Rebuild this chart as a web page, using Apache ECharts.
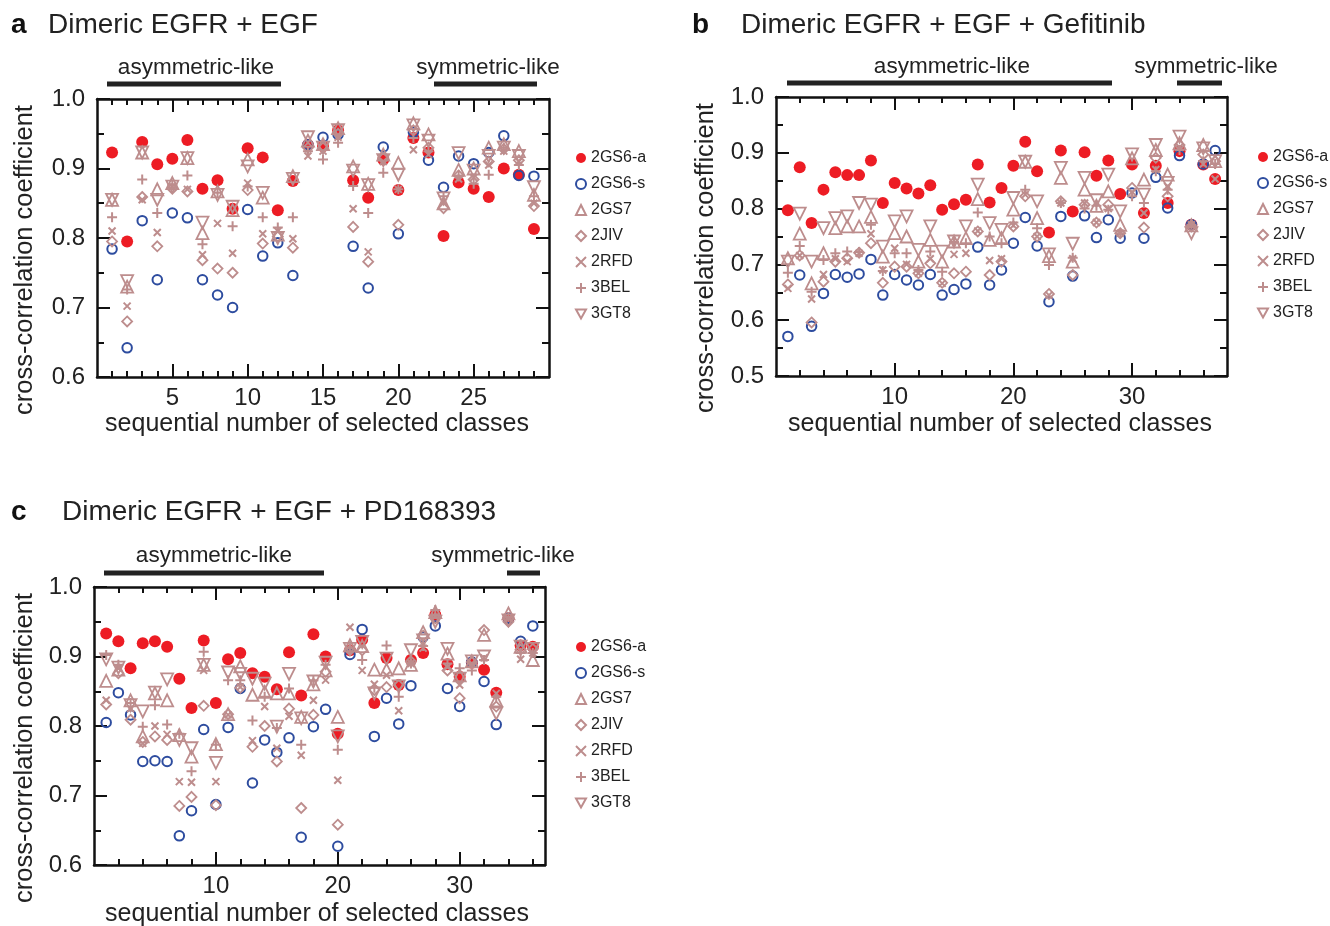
<!DOCTYPE html>
<html><head><meta charset="utf-8">
<script src="https://cdn.jsdelivr.net/npm/echarts@6/dist/echarts.min.js"></script>
<style>html,body{margin:0;padding:0;background:#fff}#c{width:1330px;height:926px}</style>
</head><body><div id="c"></div>
<script>
// ---------- DATA ----------
const seriesNames = ['2GS6-a', '2GS6-s', '2GS7', '2JIV', '2RFD', '3BEL', '3GT8'];

// Panel a: Dimeric EGFR + EGF
const classesA = [1,2,3,4,5,6,7,8,9,10,11,12,13,14,15,16,17,18,19,20,21,22,23,24,25,26,27,28,29];
const a_2GS6a = [0.923,0.795,0.938,0.906,0.914,0.941,0.871,0.883,0.842,0.929,0.916,0.840,0.882,0.934,0.932,0.955,0.883,0.858,0.913,0.869,0.944,0.923,0.803,0.880,0.871,0.859,0.900,0.891,0.813];
const a_2GS6s = [0.784,0.642,0.825,0.740,0.836,0.829,0.740,0.718,0.700,0.841,0.774,0.793,0.746,0.934,0.945,0.949,0.788,0.728,0.931,0.806,0.952,0.912,0.873,0.918,0.907,0.923,0.947,0.890,0.889];
const a_2GS7  = [0.855,0.730,0.923,0.870,0.879,0.915,0.807,0.867,0.840,0.913,0.858,0.805,0.889,0.940,0.935,0.958,0.903,0.878,0.920,0.908,0.965,0.949,0.850,0.898,0.900,0.930,0.935,0.925,0.862];
const a_2JIV  = [0.795,0.680,0.859,0.788,0.871,0.867,0.768,0.756,0.750,0.869,0.792,0.802,0.786,0.930,0.930,0.950,0.816,0.766,0.915,0.819,0.955,0.930,0.843,0.890,0.884,0.910,0.928,0.912,0.846];
const a_2RFD  = [0.810,0.702,0.855,0.808,0.874,0.870,0.776,0.821,0.778,0.879,0.806,0.810,0.799,0.918,0.925,0.945,0.842,0.780,0.910,0.870,0.927,0.920,0.852,0.885,0.887,0.905,0.925,0.910,0.850];
const a_3BEL  = [0.830,0.726,0.884,0.836,0.877,0.890,0.791,0.865,0.817,0.874,0.830,0.815,0.830,0.925,0.913,0.937,0.875,0.836,0.894,0.870,0.944,0.925,0.860,0.890,0.878,0.891,0.930,0.905,0.860];
const a_3GT8  = [0.855,0.738,0.923,0.855,0.874,0.915,0.822,0.862,0.845,0.903,0.865,0.800,0.885,0.945,0.930,0.955,0.897,0.876,0.912,0.891,0.962,0.940,0.857,0.922,0.897,0.918,0.930,0.918,0.873];

// Panel b: Dimeric EGFR + EGF + Gefitinib
const classesB = [1,2,3,4,5,6,7,8,9,10,11,12,13,14,15,16,17,18,19,20,21,22,23,24,25,26,27,28,29,30,31,32,33,34,35,36,37];
const b_2GS6a = [0.797,0.874,0.774,0.834,0.865,0.860,0.860,0.886,0.810,0.846,0.836,0.827,0.842,0.798,0.808,0.816,0.879,0.811,0.837,0.877,0.920,0.867,0.757,0.904,0.795,0.901,0.859,0.886,0.826,0.879,0.792,0.877,0.810,0.903,0.771,0.879,0.853];
const b_2GS6s = [0.571,0.681,0.589,0.648,0.682,0.677,0.683,0.709,0.645,0.682,0.672,0.663,0.682,0.645,0.655,0.665,0.731,0.663,0.690,0.738,0.784,0.733,0.633,0.786,0.679,0.787,0.748,0.780,0.747,0.828,0.747,0.856,0.801,0.895,0.771,0.880,0.904];
const b_2GS7  = [0.711,0.755,0.666,0.720,0.765,0.768,0.768,0.785,0.714,0.756,0.750,0.705,0.744,0.705,0.741,0.747,0.817,0.744,0.747,0.798,0.884,0.783,0.715,0.855,0.705,0.834,0.805,0.831,0.771,0.890,0.852,0.905,0.861,0.917,0.770,0.914,0.885];
const b_2JIV  = [0.664,0.716,0.596,0.669,0.705,0.711,0.721,0.738,0.667,0.696,0.696,0.684,0.702,0.667,0.684,0.687,0.759,0.681,0.705,0.768,0.822,0.750,0.647,0.813,0.681,0.807,0.775,0.807,0.756,0.837,0.766,0.891,0.822,0.914,0.768,0.897,0.885];
const b_2RFD  = [0.657,0.716,0.638,0.682,0.710,0.705,0.720,0.755,0.690,0.729,0.700,0.684,0.710,0.666,0.718,0.720,0.760,0.707,0.710,0.770,0.825,0.750,0.645,0.810,0.710,0.810,0.775,0.800,0.756,0.830,0.792,0.870,0.840,0.910,0.771,0.880,0.853];
const b_3BEL  = [0.685,0.733,0.651,0.708,0.720,0.723,0.722,0.771,0.688,0.720,0.720,0.690,0.723,0.687,0.740,0.738,0.793,0.750,0.738,0.775,0.834,0.765,0.699,0.810,0.712,0.800,0.805,0.798,0.756,0.822,0.810,0.867,0.834,0.905,0.771,0.885,0.880];
const b_3GT8  = [0.705,0.791,0.705,0.765,0.783,0.786,0.810,0.807,0.732,0.777,0.786,0.726,0.768,0.723,0.741,0.768,0.843,0.774,0.762,0.819,0.884,0.813,0.718,0.873,0.737,0.855,0.815,0.861,0.795,0.897,0.825,0.914,0.846,0.929,0.756,0.908,0.885];

// Panel c: Dimeric EGFR + EGF + PD168393
const classesC = [1,2,3,4,5,6,7,8,9,10,11,12,13,14,15,16,17,18,19,20,21,22,23,24,25,26,27,28,29,30,31,32,33,34,35,36];
const c_2GS6a = [0.933,0.922,0.883,0.919,0.922,0.914,0.868,0.826,0.923,0.833,0.896,0.905,0.876,0.871,0.853,0.906,0.844,0.932,0.900,0.789,0.909,0.924,0.833,0.898,0.859,0.895,0.905,0.960,0.889,0.871,0.891,0.881,0.848,0.955,0.916,0.914];
const c_2GS6s = [0.805,0.848,0.816,0.749,0.750,0.749,0.642,0.678,0.795,0.687,0.798,0.854,0.718,0.780,0.762,0.783,0.640,0.799,0.824,0.627,0.903,0.939,0.785,0.840,0.803,0.858,0.928,0.944,0.854,0.828,0.892,0.864,0.802,0.955,0.922,0.944];
const c_2GS7  = [0.865,0.881,0.837,0.785,0.847,0.837,0.787,0.756,0.888,0.774,0.817,0.886,0.845,0.849,0.847,0.847,0.813,0.860,0.880,0.813,0.916,0.915,0.881,0.881,0.883,0.888,0.935,0.964,0.904,0.873,0.893,0.931,0.837,0.962,0.914,0.895];
const c_2JIV  = [0.831,0.876,0.809,0.777,0.785,0.780,0.685,0.698,0.829,0.686,0.817,0.855,0.770,0.800,0.749,0.825,0.682,0.816,0.878,0.658,0.909,0.909,0.852,0.856,0.859,0.893,0.930,0.955,0.880,0.840,0.892,0.938,0.828,0.950,0.910,0.911];
const c_2RFD  = [0.837,0.883,0.825,0.775,0.800,0.788,0.720,0.719,0.880,0.720,0.816,0.856,0.779,0.828,0.768,0.814,0.758,0.837,0.866,0.722,0.942,0.880,0.860,0.873,0.822,0.890,0.912,0.957,0.885,0.859,0.890,0.898,0.847,0.955,0.896,0.905];
const c_3BEL  = [0.902,0.888,0.833,0.799,0.830,0.802,0.789,0.735,0.907,0.773,0.866,0.866,0.808,0.842,0.797,0.854,0.773,0.866,0.888,0.766,0.912,0.895,0.855,0.916,0.842,0.890,0.915,0.967,0.890,0.883,0.880,0.895,0.842,0.957,0.905,0.905];
const c_3GT8  = [0.896,0.884,0.830,0.821,0.848,0.867,0.780,0.768,0.888,0.747,0.877,0.875,0.868,0.861,0.799,0.875,0.811,0.864,0.891,0.785,0.911,0.921,0.847,0.897,0.857,0.909,0.923,0.950,0.911,0.868,0.893,0.900,0.818,0.952,0.914,0.911];

// Tick values
const xMajorA = [5, 10, 15, 20, 25];
const xMinorA = [1,2,3,4,6,7,8,9,11,12,13,14,16,17,18,19,21,22,23,24,26,27,28,29];
const xMajorB = [10, 20, 30];
const xMinorB = [2,4,6,8,12,14,16,18,22,24,26,28,32,34,36];
const xMajorC = [10, 20, 30];
const xMinorC = [2,4,6,8,12,14,16,18,22,24,26,28,32,34,36];

// Texts
const panelLetters = ['a', 'b', 'c'];
const panelTitles = ['Dimeric EGFR + EGF', 'Dimeric EGFR + EGF + Gefitinib', 'Dimeric EGFR + EGF + PD168393'];
const yName = 'cross-correlation coefficient';
const xName = 'sequential number of selected classes';
const asymLabel = 'asymmetric-like';
const symLabel = 'symmetric-like';

// ---------- STYLE / LAYOUT ----------
const FONT = '"Liberation Sans", Arial, sans-serif';
const RED = '#ed1c24', BLUE = '#2d4c9f', PINK = '#bd8d8d', INK = '#111';
const NOFILL = 'rgba(0,0,0,0)';
const DOWN_TRI = 'path://M0,0L10,0L5,9Z';
const styleDefs = [
  { symbol: 'circle', size: 12, fill: RED, stroke: RED, bw: 0 },
  { symbol: 'circle', size: 9.5, fill: NOFILL, stroke: BLUE, bw: 2 },
  { symbol: 'triangle', size: 12, fill: NOFILL, stroke: PINK, bw: 1.8 },
  { symbol: 'diamond', size: 10, fill: NOFILL, stroke: PINK, bw: 1.8 },
  { symbol: 'path://M0,0L10,10M10,0L0,10', size: 7, fill: NOFILL, stroke: PINK, bw: 2 },
  { symbol: 'path://M5,0L5,10M0,5L10,5', size: 10, fill: NOFILL, stroke: PINK, bw: 2 },
  { symbol: 'triangle', size: 12, fill: NOFILL, stroke: PINK, bw: 1.8, rotate: 180 }
];

const panels = [
  { classes: classesA, values: [a_2GS6a, a_2GS6s, a_2GS7, a_2JIV, a_2RFD, a_3BEL, a_3GT8],
    xMax: 30, yMin: 0.6, xMajor: xMajorA, xMinor: xMinorA,
    grid: { left: 97, top: 99, width: 452, height: 278 },
    legend: { left: 570, top: 145 },
    title: { letterX: 11, textX: 48, y: 25 },
    yNamePos: [25, 260], xNamePos: [317, 424],
    bars: [{ x1: 107, x2: 281, y: 84, tx: 196, ty: 68, t: asymLabel }, { x1: 434, x2: 537, y: 84, tx: 488, ty: 68, t: symLabel }] },
  { classes: classesB, values: [b_2GS6a, b_2GS6s, b_2GS7, b_2JIV, b_2RFD, b_3BEL, b_3GT8],
    xMax: 38, yMin: 0.5, xMajor: xMajorB, xMinor: xMinorB,
    grid: { left: 776, top: 97, width: 451, height: 279 },
    legend: { left: 1252, top: 144 },
    title: { letterX: 692, textX: 741, y: 25 },
    yNamePos: [706, 258], xNamePos: [1000, 424],
    bars: [{ x1: 787, x2: 1112, y: 83, tx: 952, ty: 67, t: asymLabel }, { x1: 1177, x2: 1222, y: 83, tx: 1206, ty: 67, t: symLabel }] },
  { classes: classesC, values: [c_2GS6a, c_2GS6s, c_2GS7, c_2JIV, c_2RFD, c_3BEL, c_3GT8],
    xMax: 37, yMin: 0.6, xMajor: xMajorC, xMinor: xMinorC,
    grid: { left: 94, top: 587, width: 451, height: 278 },
    legend: { left: 570, top: 634 },
    title: { letterX: 11, textX: 62, y: 512 },
    yNamePos: [25, 748], xNamePos: [317, 914],
    bars: [{ x1: 104, x2: 324, y: 573, tx: 214, ty: 556, t: asymLabel }, { x1: 507, x2: 540, y: 573, tx: 503, ty: 556, t: symLabel }] }
];

const grids = [], xAxes = [], yAxes = [], series = [], legends = [], graphics = [];
const tickLine = { color: INK, width: 2 };
const legendData = seriesNames.map((n, k) => k === 6 ? { name: n, icon: DOWN_TRI } : { name: n });
panels.forEach((p, i) => {
  grids.push(Object.assign({ containLabel: false }, p.grid));
  const xBase = xAxes.length;
  ['bottom', 'top'].forEach(pos => {
    xAxes.push({ gridIndex: i, type: 'value', min: 0, max: p.xMax, position: pos,
      axisLine: { show: true, onZero: false, lineStyle: { color: INK, width: 2.5 } },
      axisTick: { show: true, inside: true, length: 13, customValues: p.xMajor, lineStyle: tickLine },
      axisLabel: { show: pos === 'bottom', customValues: p.xMajor, margin: 9, fontSize: 24, color: '#222', fontFamily: FONT },
      splitLine: { show: false } });
    xAxes.push({ gridIndex: i, type: 'value', min: 0, max: p.xMax, position: pos,
      axisLine: { show: false },
      axisTick: { show: true, inside: true, length: 6, customValues: p.xMinor, lineStyle: tickLine },
      axisLabel: { show: false }, splitLine: { show: false } });
  });
  const yBase = yAxes.length;
  ['left', 'right'].forEach(pos => {
    yAxes.push({ gridIndex: i, type: 'value', min: p.yMin, max: 1.0, interval: 0.1, position: pos,
      axisLine: { show: true, onZero: false, lineStyle: { color: INK, width: 2.5 } },
      axisTick: { show: true, inside: true, length: 13, lineStyle: tickLine },
      minorTick: { show: true, splitNumber: 2, length: 7, lineStyle: tickLine },
      axisLabel: { show: pos === 'left', margin: 12, fontSize: 24, color: '#222', fontFamily: FONT,
        formatter: v => v.toFixed(1) },
      splitLine: { show: false }, minorSplitLine: { show: false } });
  });
  styleDefs.forEach((s, k) => {
    series.push({ type: 'scatter', name: seriesNames[k], xAxisIndex: xBase, yAxisIndex: yBase,
      data: p.classes.map((c, j) => [c, p.values[k][j]]),
      symbol: s.symbol, symbolSize: s.size, symbolRotate: s.rotate || 0,
      itemStyle: { color: s.fill, borderColor: s.stroke, borderWidth: s.bw, opacity: 1 },
      emphasis: { disabled: true }, silent: true, z: 2 + k });
  });
  legends.push({ orient: 'vertical', left: p.legend.left, top: p.legend.top, itemWidth: 10, itemHeight: 10,
    itemGap: 10, selectedMode: false, data: legendData,
    textStyle: { fontSize: 16, lineHeight: 16, fontFamily: FONT, color: '#222' } });

  graphics.push({ type: 'text', left: p.title.letterX, top: p.title.y - 14,
    style: { text: panelLetters[i], font: 'bold 28px ' + FONT, fill: '#111' } });
  graphics.push({ type: 'text', left: p.title.textX, top: p.title.y - 14,
    style: { text: panelTitles[i], font: '28px ' + FONT, fill: '#222' } });
  graphics.push({ type: 'text', x: p.yNamePos[0], y: p.yNamePos[1], rotation: Math.PI / 2,
    style: { text: yName, font: '25.5px ' + FONT, fill: '#222', textAlign: 'center', textVerticalAlign: 'middle' } });
  graphics.push({ type: 'text', x: p.xNamePos[0], y: p.xNamePos[1],
    style: { text: xName, font: '25px ' + FONT, fill: '#222', textAlign: 'center', textVerticalAlign: 'middle' } });
  p.bars.forEach(b => {
    graphics.push({ type: 'rect', shape: { x: b.x1, y: b.y - 2.5, width: b.x2 - b.x1, height: 5 }, style: { fill: '#222' } });
    graphics.push({ type: 'text', x: b.tx, y: b.ty,
      style: { text: b.t, font: '22.5px ' + FONT, fill: '#222', textAlign: 'center', textVerticalAlign: 'middle' } });
  });
});

const chart = echarts.init(document.getElementById('c'), null, { renderer: 'canvas' });
chart.setOption({
  animation: false,
  backgroundColor: '#fff',
  grid: grids, xAxis: xAxes, yAxis: yAxes, series: series, legend: legends,
  graphic: graphics,
  tooltip: { show: false }
});
</script></body></html>
